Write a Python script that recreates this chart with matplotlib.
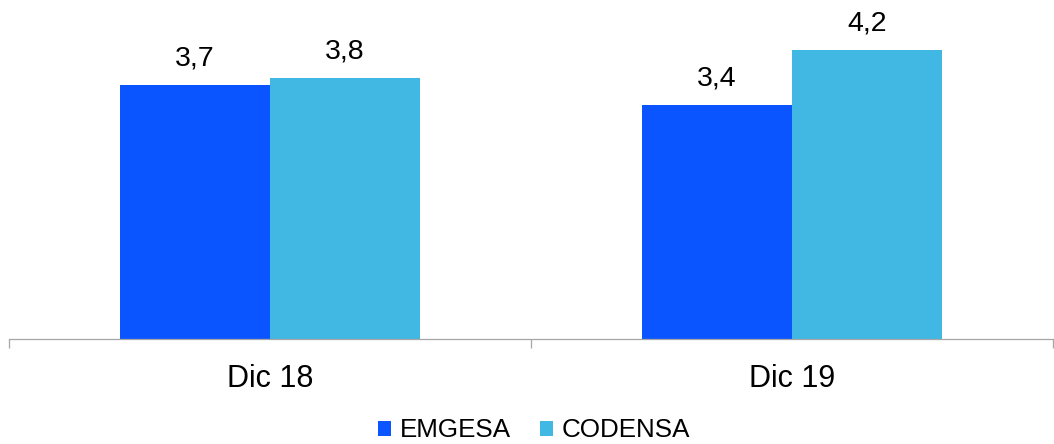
import matplotlib.pyplot as plt
import numpy as np

plt.rcParams['font.family'] = ['Liberation Sans', 'DejaVu Sans']

# Data
categories = ['Dic 18', 'Dic 19']
emgesa = [3.7, 3.4]
codensa = [3.8, 4.2]
series_names = ['EMGESA', 'CODENSA']
colors = ['#0A55FF', '#41B8E4']

fig = plt.figure(figsize=(10.54, 4.44), dpi=100)
ax = fig.add_axes([9 / 1054, 105 / 444, 1044 / 1054, 339 / 444])

x = np.arange(len(categories))
width = 0.287

bars1 = ax.bar(x - width / 2, emgesa, width, color=colors[0], label=series_names[0])
bars2 = ax.bar(x + width / 2, codensa, width, color=colors[1], label=series_names[1])

# Value labels with comma decimal separator
for bars in (bars1, bars2):
    for b in bars:
        h = b.get_height()
        ax.annotate(f"{h:.1f}".replace('.', ','),
                    xy=(b.get_x() + b.get_width() / 2, h),
                    xytext=(0, 14), textcoords='offset points',
                    ha='center', va='baseline', fontsize=20.5)

ax.set_xlim(-0.5, len(categories) - 0.5)
ax.set_ylim(0, 4.93)

# Ticks at category boundaries, labels at centers
ax.set_xticks(np.arange(-0.5, len(categories), 1.0))
ax.set_xticklabels([])
ax.set_xticks(x, minor=True)
ax.set_xticklabels(categories, minor=True, fontsize=22)
ax.tick_params(axis='x', which='major', length=6.5, width=0.9, color='#A6A6A6')
ax.tick_params(axis='x', which='minor', length=0, pad=18)
ax.set_yticks([])

for side in ['top', 'right', 'left']:
    ax.spines[side].set_visible(False)
ax.spines['bottom'].set_color('#A6A6A6')
ax.spines['bottom'].set_linewidth(0.9)

fig.legend(loc='lower center', bbox_to_anchor=(0.507, -0.02), ncol=2, frameon=False,
           fontsize=18.7, handlelength=0.5, handleheight=0.5,
           handletextpad=0.34, columnspacing=1.1, borderaxespad=0.0)

plt.savefig('out.png', dpi=100)
